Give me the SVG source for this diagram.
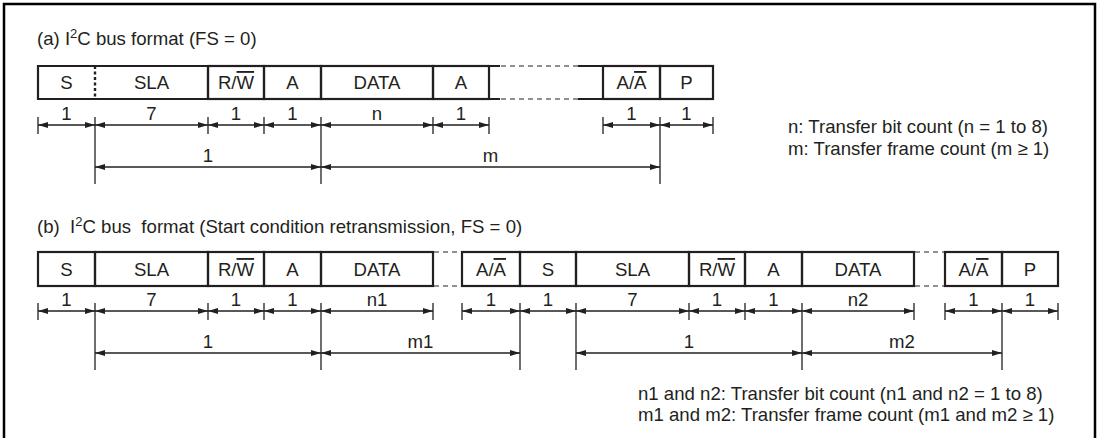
<svg xmlns="http://www.w3.org/2000/svg" width="1099" height="438" viewBox="0 0 1099 438">
<style>
text{font-family:"Liberation Sans",Arial,sans-serif;font-size:18.6px;fill:#231f20}
.c{text-anchor:middle}
.box{fill:none;stroke:#231f20;stroke-width:2.2}
.dv{stroke:#231f20;stroke-width:2.4;stroke-dasharray:3 2.5}
.gap{stroke:#231f20;stroke-width:1.2;stroke-dasharray:5 4}
.dim{stroke:#231f20;stroke-width:1.3;marker-start:url(#ah);marker-end:url(#ah)}
.tk{stroke:#231f20;stroke-width:1.3}
.ov{text-decoration:overline}
</style>
<defs>
<marker id="ah" viewBox="0 0 10 6" refX="10" refY="3" markerWidth="10" markerHeight="6" markerUnits="userSpaceOnUse" orient="auto-start-reverse">
<path d="M0,0 L10,3 L0,6 Z" fill="#231f20"/>
</marker>
</defs>
<rect width="1099" height="438" fill="#fff"/>
<path d="M4,445 V4 H1095 V445" fill="none" stroke="#000" stroke-width="2.5"/>

<text x="37" y="45">(a)  I<tspan font-size="13" dy="-7">2</tspan><tspan dy="7">C bus format (FS = 0)</tspan></text>
<text x="37" y="233" xml:space="preserve">(b)  I<tspan font-size="13" dy="-7">2</tspan><tspan dy="7">C bus  format (Start condition retransmission, FS = 0)</tspan></text>

<!-- Row (a) -->
<g id="a-S"><path class="box" d="M95,66 H38 V99 H95"/><line class="dv" x1="95" y1="66" x2="95" y2="99"/><text class="c" x="66.5" y="89">S</text></g>
<g id="a-SLA"><path class="box" d="M95,66 H208 V99 H95"/><text class="c" x="151.5" y="89">SLA</text></g>
<g id="a-RW"><rect class="box" x="208" y="66" width="56" height="33"/><text class="c" x="236" y="89">R/<tspan class="ov">W</tspan></text></g>
<g id="a-A1"><rect class="box" x="264" y="66" width="57" height="33"/><text class="c" x="292.5" y="89">A</text></g>
<g id="a-DATA"><rect class="box" x="321" y="66" width="112" height="33"/><text class="c" x="377" y="89">DATA</text></g>
<g id="a-A2"><rect class="box" x="433" y="66" width="56" height="33"/><text class="c" x="461" y="89">A</text></g>
<g id="a-gap"><path class="box" d="M489,66 H500 M489,99 H500 M578,66 H603 M578,99 H603"/><line class="gap" x1="501" y1="66" x2="578" y2="66"/><line class="gap" x1="501" y1="99" x2="578" y2="99"/></g>
<g id="a-AA"><rect class="box" x="603" y="66" width="57" height="33"/><text class="c" x="631.5" y="89">A/<tspan class="ov">A</tspan></text></g>
<g id="a-P"><rect class="box" x="660" y="66" width="53" height="33"/><text class="c" x="686.5" y="89">P</text></g>

<g id="a-notes">
<text x="788" y="133">n: Transfer bit count (n = 1 to 8)</text>
<text x="788" y="155">m: Transfer frame count (m ≥ 1)</text>
</g>

<!-- Row (b) -->
<g id="b-S1"><rect class="box" x="38" y="252" width="57" height="34"/><text class="c" x="66.5" y="276">S</text></g>
<g id="b-SLA1"><rect class="box" x="95" y="252" width="113" height="34"/><text class="c" x="151.5" y="276">SLA</text></g>
<g id="b-RW1"><rect class="box" x="208" y="252" width="56" height="34"/><text class="c" x="236" y="276">R/<tspan class="ov">W</tspan></text></g>
<g id="b-A1"><rect class="box" x="264" y="252" width="57" height="34"/><text class="c" x="292.5" y="276">A</text></g>
<g id="b-DATA1"><rect class="box" x="321" y="252" width="112" height="34"/><text class="c" x="377" y="276">DATA</text></g>
<g id="b-gap1"><line class="gap" x1="434" y1="252" x2="462" y2="252"/><line class="gap" x1="434" y1="286" x2="462" y2="286"/></g>
<g id="b-AA1"><rect class="box" x="462" y="252" width="58" height="34"/><text class="c" x="491" y="276">A/<tspan class="ov">A</tspan></text></g>
<g id="b-S2"><rect class="box" x="520" y="252" width="56" height="34"/><text class="c" x="548" y="276">S</text></g>
<g id="b-SLA2"><rect class="box" x="576" y="252" width="113" height="34"/><text class="c" x="632.5" y="276">SLA</text></g>
<g id="b-RW2"><rect class="box" x="689" y="252" width="56" height="34"/><text class="c" x="717" y="276">R/<tspan class="ov">W</tspan></text></g>
<g id="b-A2"><rect class="box" x="745" y="252" width="57" height="34"/><text class="c" x="773.5" y="276">A</text></g>
<g id="b-DATA2"><rect class="box" x="802" y="252" width="112" height="34"/><text class="c" x="858" y="276">DATA</text></g>
<g id="b-gap2"><line class="gap" x1="915" y1="252" x2="945" y2="252"/><line class="gap" x1="915" y1="286" x2="945" y2="286"/></g>
<g id="b-AA2"><rect class="box" x="945" y="252" width="57" height="34"/><text class="c" x="973.5" y="276">A/<tspan class="ov">A</tspan></text></g>
<g id="b-P"><rect class="box" x="1002" y="252" width="56" height="34"/><text class="c" x="1030" y="276">P</text></g>

<g id="b-notes">
<text x="638" y="400">n1 and n2: Transfer bit count (n1 and n2 = 1 to 8)</text>
<text x="638" y="421">m1 and m2: Transfer frame count (m1 and m2 ≥ 1)</text>
</g>

<!-- Dimension connectors -->
<g id="connectors">
<path class="tk" d="M38,117V134 M95,117V184 M208,117V134 M264,117V134 M321,117V184 M433,117V134 M489,117V134 M603,117V134 M660,117V184 M713,117V134"/>
<line class="dim" x1="38" y1="125" x2="95" y2="125"/>
<line class="dim" x1="95" y1="125" x2="208" y2="125"/>
<line class="dim" x1="208" y1="125" x2="264" y2="125"/>
<line class="dim" x1="264" y1="125" x2="321" y2="125"/>
<line class="dim" x1="321" y1="125" x2="433" y2="125"/>
<line class="dim" x1="433" y1="125" x2="489" y2="125"/>
<line class="dim" x1="603" y1="125" x2="660" y2="125"/>
<line class="dim" x1="660" y1="125" x2="713" y2="125"/>
<line class="dim" x1="95" y1="167" x2="321" y2="167"/>
<line class="dim" x1="321" y1="167" x2="660" y2="167"/>
<path class="tk" d="M38,303V320 M95,303V370 M208,303V320 M264,303V320 M321,303V370 M433,303V320 M462,303V320 M520,303V370 M576,303V370 M689,303V320 M745,303V320 M802,303V370 M914,303V320 M945,303V320 M1002,303V370 M1058,303V320"/>
<line class="dim" x1="38" y1="311" x2="95" y2="311"/>
<line class="dim" x1="95" y1="311" x2="208" y2="311"/>
<line class="dim" x1="208" y1="311" x2="264" y2="311"/>
<line class="dim" x1="264" y1="311" x2="321" y2="311"/>
<line class="dim" x1="321" y1="311" x2="433" y2="311"/>
<line class="dim" x1="462" y1="311" x2="520" y2="311"/>
<line class="dim" x1="520" y1="311" x2="576" y2="311"/>
<line class="dim" x1="576" y1="311" x2="689" y2="311"/>
<line class="dim" x1="689" y1="311" x2="745" y2="311"/>
<line class="dim" x1="745" y1="311" x2="802" y2="311"/>
<line class="dim" x1="802" y1="311" x2="914" y2="311"/>
<line class="dim" x1="945" y1="311" x2="1002" y2="311"/>
<line class="dim" x1="1002" y1="311" x2="1058" y2="311"/>
<line class="dim" x1="95" y1="353" x2="321" y2="353"/>
<line class="dim" x1="321" y1="353" x2="520" y2="353"/>
<line class="dim" x1="576" y1="353" x2="802" y2="353"/>
<line class="dim" x1="802" y1="353" x2="1002" y2="353"/>
</g>

<g id="dim-labels">
<text class="c" x="66.5" y="120">1</text>
<text class="c" x="151.5" y="120">7</text>
<text class="c" x="236" y="120">1</text>
<text class="c" x="292.5" y="120">1</text>
<text class="c" x="377" y="120">n</text>
<text class="c" x="461" y="120">1</text>
<text class="c" x="631.5" y="120">1</text>
<text class="c" x="686.5" y="120">1</text>
<text class="c" x="208" y="162">1</text>
<text class="c" x="490.5" y="162">m</text>
<text class="c" x="66.5" y="306">1</text>
<text class="c" x="151.5" y="306">7</text>
<text class="c" x="236" y="306">1</text>
<text class="c" x="292.5" y="306">1</text>
<text class="c" x="377" y="306">n1</text>
<text class="c" x="491" y="306">1</text>
<text class="c" x="548" y="306">1</text>
<text class="c" x="632.5" y="306">7</text>
<text class="c" x="717" y="306">1</text>
<text class="c" x="773.5" y="306">1</text>
<text class="c" x="858" y="306">n2</text>
<text class="c" x="973.5" y="306">1</text>
<text class="c" x="1030" y="306">1</text>
<text class="c" x="208" y="348">1</text>
<text class="c" x="420.5" y="348">m1</text>
<text class="c" x="689" y="348">1</text>
<text class="c" x="902" y="348">m2</text>
</g>
</svg>
